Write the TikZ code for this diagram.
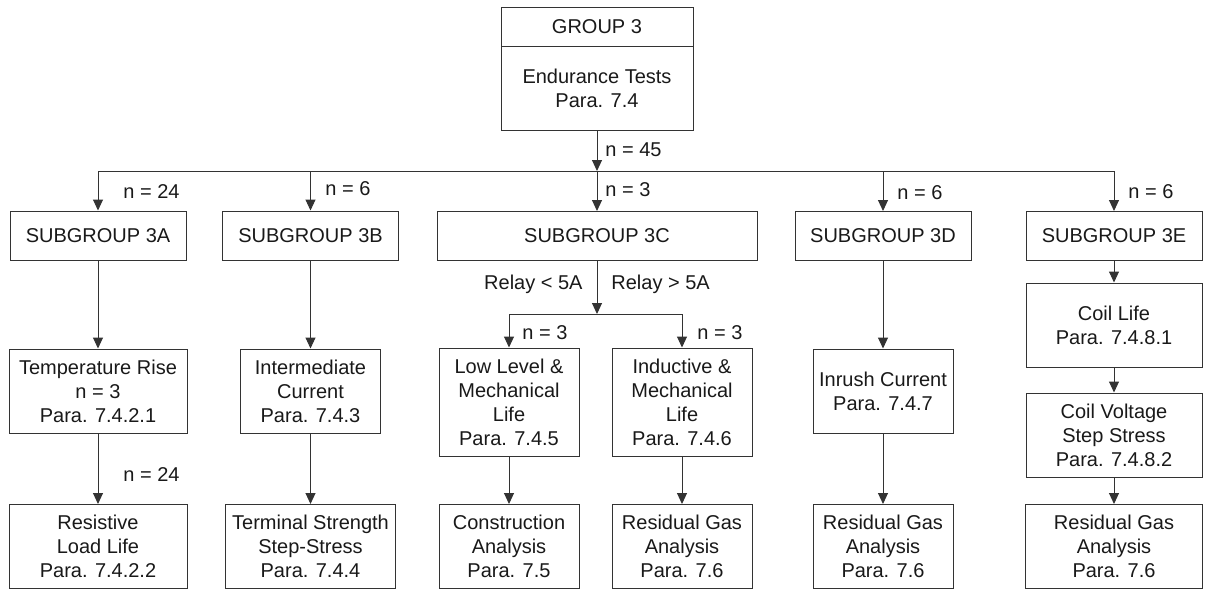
\documentclass[tikz,border=0pt]{standalone}
\usepackage{fontspec}
\setmainfont{Liberation Sans}
\usetikzlibrary{arrows.meta}
\begin{document}
\begin{tikzpicture}[x=0.5pt,y=-0.5pt,font=\fontsize{10}{12}\selectfont,text=black!90,
  box/.style={draw=black!80,line width=0.5pt,align=center,inner sep=0pt,minimum height=42pt},
  sub/.style={box,minimum width=88pt,minimum height=24.5pt},
  ln/.style={draw=black!80,line width=0.5pt},
  arr/.style={ln,-{Triangle[length=5.5pt,width=5pt]}},
  lbl/.style={inner sep=0pt,anchor=west}]
\useasboundingbox (0,0) rectangle (1210,589);
\node[box,minimum width=96pt,minimum height=19.5pt] (g3head) at (597,26.5) {GROUP 3};
\node[box,minimum width=96pt] (g3) at (597,88) {Endurance Tests\\Para. 7.4};
\node[sub] (s3a) at (98,235.5) {SUBGROUP 3A};
\node[sub] (s3b) at (310.5,235.5) {SUBGROUP 3B};
\node[sub,minimum width=160pt] (s3c) at (597,236) {SUBGROUP 3C};
\node[sub] (s3d) at (883,236) {SUBGROUP 3D};
\node[sub] (s3e) at (1114,236) {SUBGROUP 3E};
\node[box,minimum width=89pt] (temprise) at (98,391) {Temperature Rise\\n = 3\\Para. 7.4.2.1};
\node[box,minimum width=70pt] (intcur) at (310.5,391) {Intermediate\\Current\\Para. 7.4.3};
\node[box,minimum width=70pt,minimum height=54pt] (lowlevel) at (509,402) {Low Level \&\\Mechanical\\Life\\Para. 7.4.5};
\node[box,minimum width=70pt,minimum height=54pt] (inductive) at (682,402) {Inductive \&\\Mechanical\\Life\\Para. 7.4.6};
\node[box,minimum width=70pt] (inrush) at (883,391) {Inrush Current\\Para. 7.4.7};
\node[box,minimum width=88pt] (coillife) at (1114,325) {Coil Life\\Para. 7.4.8.1};
\node[box,minimum width=88pt] (coilstep) at (1114,435) {Coil Voltage\\Step Stress\\Para. 7.4.8.2};
\node[box,minimum width=89pt] (resload) at (98,546.5) {Resistive\\Load Life\\Para. 7.4.2.2};
\node[box,minimum width=85pt] (termstr) at (310.5,546.5) {Terminal Strength\\Step-Stress\\Para. 7.4.4};
\node[box,minimum width=70pt] (constr) at (509,546.5) {Construction\\Analysis\\Para. 7.5};
\node[box,minimum width=70pt] (rgac) at (682,546.5) {Residual Gas\\Analysis\\Para. 7.6};
\node[box,minimum width=70pt] (rgad) at (883,546.5) {Residual Gas\\Analysis\\Para. 7.6};
\node[box,minimum width=88.5pt] (rgae) at (1114,546.5) {Residual Gas\\Analysis\\Para. 7.6};
\coordinate (bus) at (597,171);
\coordinate (fork) at (597,314);
\draw[arr] (g3) -- (bus);
\draw[ln] (s3a.north |- bus) -- (s3e.north |- bus);
\draw[arr] (s3a.north |- bus) -- (s3a);
\draw[arr] (s3b.north |- bus) -- (s3b);
\draw[arr] (bus) -- (s3c);
\draw[arr] (s3d.north |- bus) -- (s3d);
\draw[arr] (s3e.north |- bus) -- (s3e);
\draw[arr] (s3a) -- (temprise);
\draw[arr] (temprise) -- (resload);
\draw[arr] (s3b) -- (intcur);
\draw[arr] (intcur) -- (termstr);
\draw[arr] (s3c) -- (fork);
\draw[ln] (lowlevel.north |- fork) -- (inductive.north |- fork);
\draw[arr] (lowlevel.north |- fork) -- (lowlevel);
\draw[arr] (inductive.north |- fork) -- (inductive);
\draw[arr] (lowlevel) -- (constr);
\draw[arr] (inductive) -- (rgac);
\draw[arr] (s3d) -- (inrush);
\draw[arr] (inrush) -- (rgad);
\draw[arr] (s3e) -- (coillife);
\draw[arr] (coillife) -- (coilstep);
\draw[arr] (coilstep) -- (rgae);
\node[lbl] (n45) at (605,150) {n = 45};
\node[lbl] (na) at (123,192) {n = 24};
\node[lbl] (nb) at (325,189) {n = 6};
\node[lbl] (nc) at (605,190) {n = 3};
\node[lbl] (nd) at (897,193) {n = 6};
\node[lbl] (ne) at (1128,192) {n = 6};
\node[lbl,anchor=base east] (relaylo) at (583,289) {Relay < 5A};
\node[lbl,anchor=base west] (relayhi) at (611,289) {Relay > 5A};
\node[lbl] (nlow) at (522,333) {n = 3};
\node[lbl] (nind) at (697,333) {n = 3};
\node[lbl] (nload) at (123,475) {n = 24};
\end{tikzpicture}
\end{document}
